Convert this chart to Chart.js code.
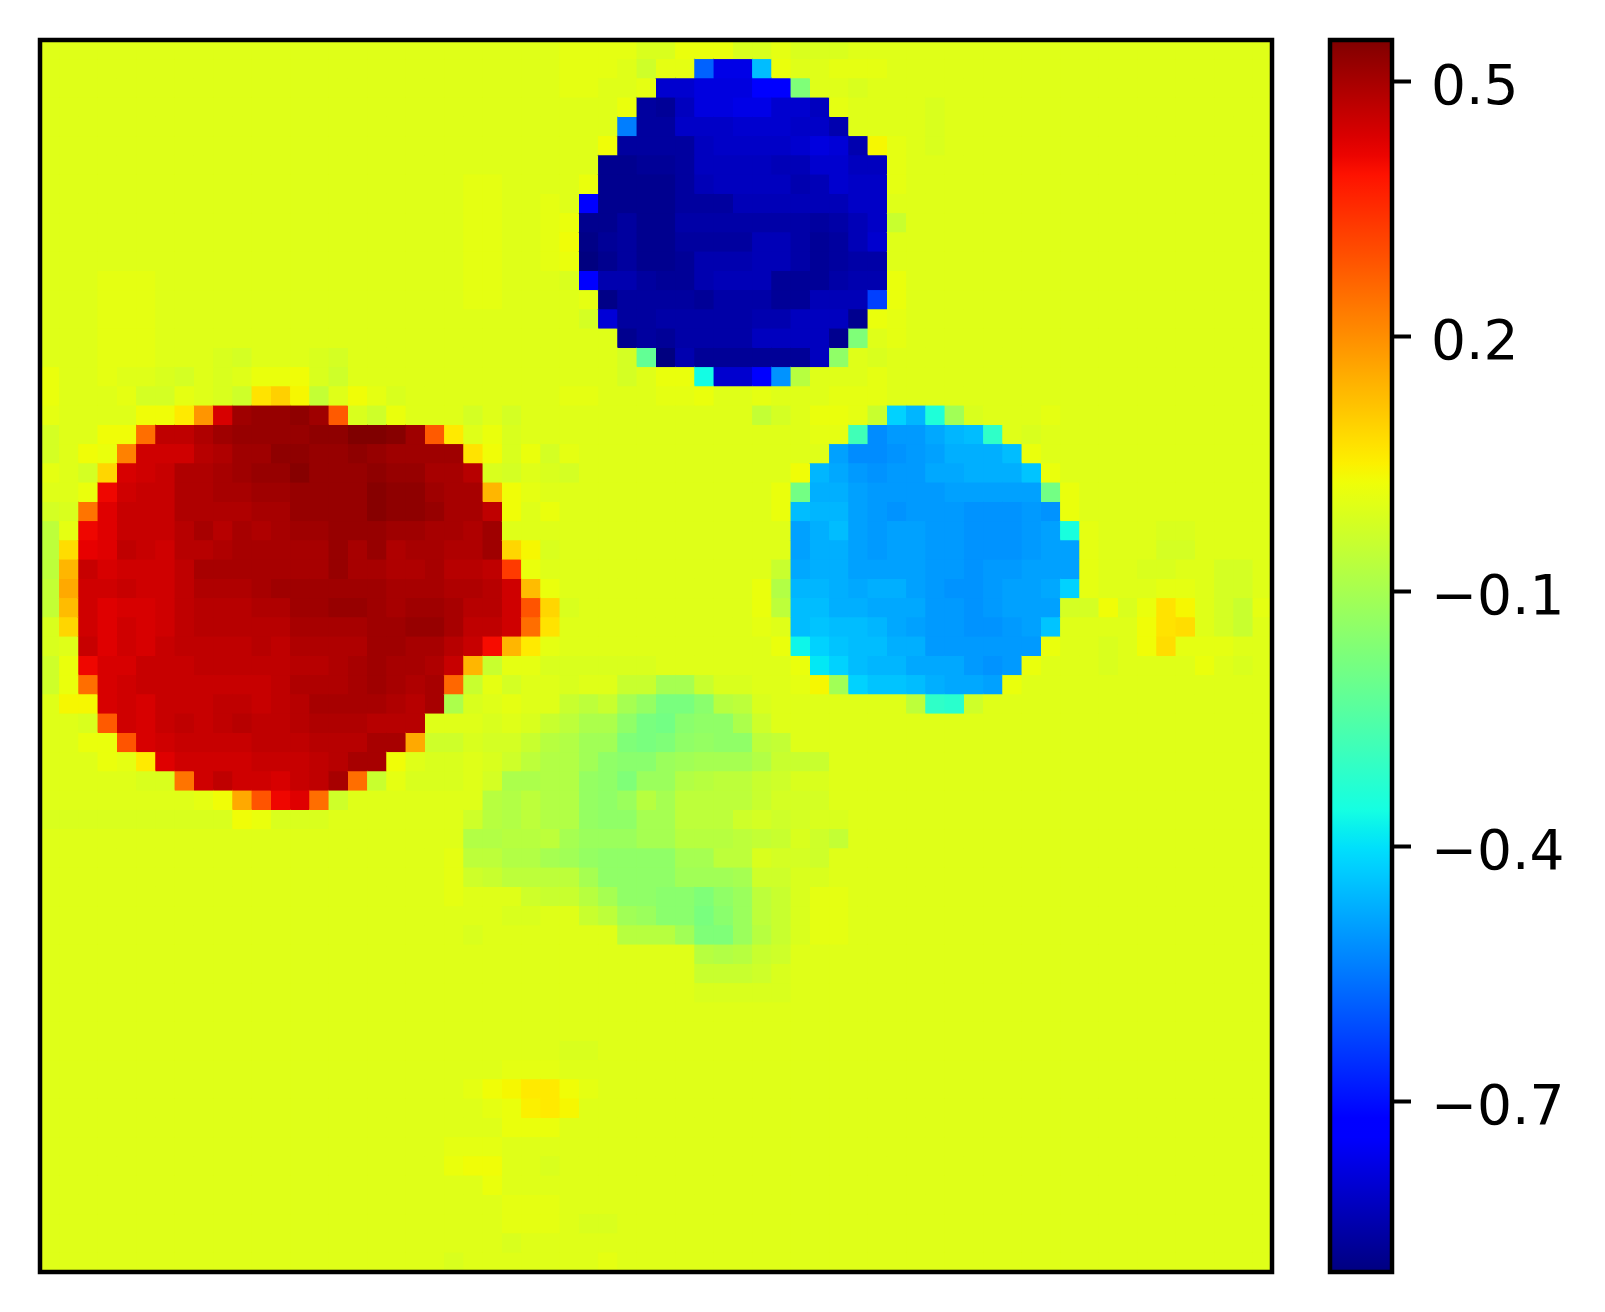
<!DOCTYPE html>
<html>
<head>
<meta charset="utf-8">
<title>Heatmap</title>
<script src="https://cdn.jsdelivr.net/npm/chart.js@4"></script>
<style>
    body { margin: 0; background: #fff; }
    canvas { position: absolute; top: 0; }
    #heat { left: 0; }
    #bar { left: 1300px; }
</style>
</head>
<body>
<canvas id="heat" width="1300" height="1312"></canvas>
<canvas id="bar" width="305" height="1312"></canvas>
<script>
// Colour scale range and colourbar ticks
const valueMin = -0.9;
const valueMax = 0.549;
const tickValues = [0.5, 0.2, -0.1, -0.4, -0.7];
const tickLabels = ["0.5", "0.2", "\u22120.1", "\u22120.4", "\u22120.7"];

// Cell values in hundredths, one row per line (8 values per group)
const heatRows = [
[0,0,0,0,0,0,0,0,  0,0,0,0,0,0,0,0,  0,0,0,0,0,0,0,0,  0,0,0,1,1,1,1,-1,  -1,2,2,2,-1,-1,1,-1,  -1,-1,0,0,0,0,0,0,  0,0,0,0,0,0,0,0,  0,0,0,0,0,0,0,0],
[0,0,0,0,0,0,0,0,  0,0,0,0,0,0,0,0,  0,0,0,0,0,0,0,0,  0,0,0,1,1,1,0,-3,  1,1,-58,-77,-77,-45,2,0,  0,1,1,1,0,0,0,0,  0,0,0,0,0,0,0,0,  0,0,0,0,0,0,0,0],
[0,0,0,0,0,0,0,0,  0,0,0,0,0,0,0,0,  0,0,0,0,0,0,0,0,  0,0,0,1,1,0,0,1,  -80,-80,-78,-78,-78,-74,-74,-17,  0,0,-1,0,0,0,0,0,  0,0,0,0,0,0,0,0,  0,0,0,0,0,0,0,0],
[0,0,0,0,0,0,0,0,  0,0,0,0,0,0,0,0,  0,0,0,0,0,0,0,0,  0,0,0,0,0,0,2,-86,  -87,-82,-78,-78,-77,-77,-80,-80,  -82,1,0,0,0,0,-1,0,  0,0,0,0,0,0,0,0,  0,0,0,0,0,0,0,0],
[0,0,0,0,0,0,0,0,  0,0,0,0,0,0,0,0,  0,0,0,0,0,0,0,0,  0,0,0,0,0,0,-54,-86,  -86,-81,-81,-81,-80,-80,-80,-81,  -81,-84,0,0,0,0,-1,0,  0,0,0,0,0,0,0,0,  0,0,0,0,0,0,0,0],
[0,0,0,0,0,0,0,0,  0,0,0,0,0,0,0,0,  0,0,0,0,0,0,0,0,  0,0,0,0,0,3,-86,-86,  -86,-86,-82,-81,-81,-81,-81,-80,  -78,-79,-84,4,1,0,-1,0,  0,0,0,0,0,0,0,0,  0,0,0,0,0,0,0,0],
[0,0,0,0,0,0,0,0,  0,0,0,0,0,0,0,0,  0,0,0,0,0,0,0,0,  0,0,0,0,0,-88,-88,-87,  -87,-86,-82,-82,-82,-82,-83,-83,  -80,-80,-82,-82,1,0,0,0,  0,0,0,0,0,0,0,0,  0,0,0,0,0,0,0,0],
[0,0,0,0,0,0,0,0,  0,0,0,0,0,0,0,0,  0,0,0,0,0,0,1,1,  0,0,0,0,2,-88,-88,-88,  -88,-86,-83,-82,-82,-82,-82,-84,  -83,-80,-81,-81,1,0,0,0,  0,0,0,0,0,0,0,0,  0,0,0,0,0,0,0,0],
[0,0,0,0,0,0,0,0,  0,0,0,0,0,0,0,0,  0,0,0,0,0,0,1,1,  0,0,1,0,-72,-88,-88,-88,  -88,-86,-86,-86,-83,-83,-83,-83,  -83,-83,-81,-81,0,0,0,0,  0,0,0,0,0,0,0,0,  0,0,0,0,0,0,0,0],
[0,0,0,0,0,0,0,0,  0,0,0,0,0,0,0,0,  0,0,0,0,0,0,1,1,  0,0,1,2,-88,-88,-86,-88,  -88,-85,-85,-85,-85,-85,-85,-85,  -86,-85,-83,-81,-4,0,0,0,  0,0,0,0,0,0,0,0,  0,0,0,0,0,0,0,0],
[0,0,0,0,0,0,0,0,  0,0,0,0,0,0,0,0,  0,0,0,0,0,0,1,1,  0,0,1,3,-89,-87,-86,-88,  -88,-86,-86,-86,-86,-83,-83,-85,  -87,-86,-83,-80,0,0,0,0,  0,0,0,0,0,0,0,0,  0,0,0,0,0,0,0,0],
[0,0,0,0,0,0,0,0,  0,0,0,0,0,0,0,0,  0,0,0,0,0,0,1,1,  0,0,1,2,-90,-88,-86,-88,  -88,-87,-84,-84,-84,-83,-83,-85,  -87,-86,-85,-85,0,0,0,0,  0,0,0,0,0,0,0,0,  0,0,0,0,0,0,0,0],
[0,0,0,1,1,1,0,0,  0,0,0,0,0,0,0,0,  0,0,0,0,0,0,1,1,  0,0,0,-1,-74,-84,-84,-86,  -87,-87,-84,-83,-83,-83,-87,-87,  -87,-85,-84,-84,2,0,0,0,  0,0,0,0,0,0,0,0,  0,0,0,0,0,0,0,0],
[0,0,0,1,1,1,0,0,  0,0,0,0,0,0,0,0,  0,0,0,0,0,0,1,1,  0,0,0,0,1,-89,-86,-86,  -86,-86,-87,-85,-85,-85,-87,-87,  -83,-83,-83,-63,2,0,0,0,  0,0,0,0,0,0,0,0,  0,0,0,0,0,0,0,0],
[0,0,0,1,1,1,0,0,  0,0,0,0,0,0,0,0,  0,0,0,0,0,0,0,0,  0,0,0,0,-2,-79,-86,-86,  -85,-85,-85,-85,-85,-84,-84,-82,  -82,-82,-88,2,1,0,0,0,  0,0,0,0,0,0,0,0,  0,0,0,0,0,0,0,0],
[0,0,0,1,1,1,0,0,  0,0,0,0,0,0,0,0,  0,0,0,0,0,0,0,0,  0,0,0,0,0,0,-88,-86,  -87,-85,-85,-85,-85,-82,-82,-82,  -82,-88,-17,0,1,0,0,0,  0,0,0,0,0,0,0,0,  0,0,0,0,0,0,0,0],
[0,0,0,1,1,1,0,0,  0,-1,-2,0,0,0,-1,-2,  0,0,0,0,0,0,0,0,  0,0,0,0,0,0,-2,-22,  -90,-84,-87,-87,-87,-87,-87,-87,  -82,-14,0,-1,0,0,0,0,  0,0,0,0,0,0,0,0,  0,0,0,0,0,0,0,0],
[2,0,0,1,0,0,-1,-2,  0,-1,0,2,2,3,-1,-3,  0,0,0,0,0,0,0,0,  0,0,0,0,0,0,-2,0,  2,2,-36,-80,-80,-74,-51,-7,  0,0,0,1,0,0,0,0,  0,0,0,0,0,0,0,0,  0,0,0,0,0,0,0,0],
[2,0,0,0,1,-2,-2,1,  0,-1,-3,7,10,4,-5,0,  3,1,-1,0,0,0,0,0,  0,0,0,1,1,0,0,0,  1,1,2,0,0,1,0,0,  0,1,1,1,0,0,0,0,  0,0,0,0,0,0,0,0,  0,0,0,0,0,0,0,0],
[1,0,0,0,0,3,3,6,  19,44,51,52,52,53,51,28,  -1,-3,2,0,0,0,-2,0,  -2,0,0,0,0,0,0,0,  0,0,0,0,0,-5,-2,0,  2,2,1,-4,-42,-46,-34,-11,  -1,0,0,0,1,0,0,0,  0,0,0,0,0,0,0,0],
[-2,0,0,3,3,25,47,47,  49,51,52,52,52,52,53,53,  55,55,54,51,28,6,0,2,  -1,0,0,0,0,0,0,0,  0,0,0,0,0,0,0,0,  1,1,-28,-52,-50,-50,-48,-46,  -45,-31,0,-1,0,0,0,0,  0,0,0,0,0,0,0,0],
[-2,0,3,2,22,45,45,45,  48,49,51,51,53,53,52,52,  53,52,51,51,51,51,7,3,  -1,2,-2,1,0,0,0,0,  0,0,0,0,0,0,0,0,  0,-49,-52,-52,-51,-50,-49,-47,  -47,-47,-45,2,0,0,0,0,  0,0,0,0,0,0,0,0],
[1,0,-2,9,44,45,46,49,  49,50,51,52,52,54,52,52,  52,53,52,52,50,50,48,-1,  -2,0,-1,-2,0,0,0,0,  0,0,0,0,0,0,0,3,  -46,-48,-50,-51,-50,-50,-48,-48,  -47,-47,-47,-44,2,0,0,0,  0,0,0,0,0,0,0,0],
[0,0,2,41,45,46,46,49,  49,50,50,51,51,52,52,52,  52,54,53,53,51,50,50,14,  3,1,0,0,0,0,0,0,  0,0,0,0,0,0,2,-19,  -47,-47,-49,-50,-50,-50,-50,-49,  -49,-49,-49,-49,-19,2,0,0,  0,0,0,0,0,0,0,0],
[-2,-1,24,43,46,46,46,49,  49,49,49,50,50,52,52,52,  52,54,53,53,52,50,50,47,  3,0,2,0,0,0,0,0,  0,0,0,0,0,0,2,-45,  -46,-46,-49,-50,-51,-50,-50,-50,  -51,-51,-51,-50,-51,2,0,0,  0,0,0,0,0,0,0,0],
[-6,1,41,43,46,46,46,48,  50,48,50,49,50,51,51,52,  52,52,51,51,50,50,49,51,  0,0,0,0,0,0,0,0,  0,0,0,0,0,0,0,-49,  -47,-45,-49,-50,-49,-49,-50,-50,  -51,-51,-51,-50,-49,-35,1,0,  0,0,-1,-1,0,0,0,0],
[-6,8,42,43,47,46,45,48,  48,49,50,50,50,50,50,52,  50,52,49,50,50,49,49,51,  9,4,-1,0,0,0,0,0,  0,0,0,0,0,0,0,-49,  -47,-47,-49,-50,-49,-49,-50,-50,  -51,-51,-51,-50,-49,-49,1,0,  0,0,-2,-2,0,0,0,0],
[-6,14,46,44,45,45,45,47,  50,50,50,50,50,50,50,52,  50,50,49,49,50,48,48,47,  33,2,0,0,0,0,0,0,  0,0,0,0,0,0,-4,-48,  -47,-47,-49,-49,-49,-49,-50,-50,  -51,-50,-50,-49,-49,-49,1,0,  0,-1,-1,0,0,-2,-2,0],
[-5,16,45,45,46,45,45,47,  49,49,49,50,51,51,51,51,  51,51,50,50,50,49,49,48,  45,13,2,0,0,0,0,0,  0,0,0,0,0,2,-8,-46,  -46,-47,-48,-47,-47,-49,-50,-51,  -51,-50,-49,-49,-48,-42,1,0,  0,0,1,1,0,-2,-2,0],
[-5,13,45,43,44,44,45,47,  48,48,48,49,49,51,51,52,  52,51,50,51,51,50,48,48,  45,29,9,-1,0,0,0,0,  0,0,0,0,0,2,-6,-45,  -45,-47,-47,-48,-48,-48,-50,-50,  -51,-50,-49,-49,-49,-2,-2,3,  -1,2,7,4,0,-2,-4,1],
[-1,9,45,43,45,44,45,47,  48,48,48,48,48,50,50,50,  50,51,51,52,52,50,47,47,  45,25,7,0,0,0,0,0,  0,0,0,0,0,1,0,-45,  -44,-45,-45,-46,-48,-49,-50,-50,  -51,-51,-50,-49,-44,0,0,0,  0,3,7,8,0,-2,-4,0],
[-1,0,46,43,45,44,46,47,  47,47,47,48,47,49,49,49,  49,51,51,50,50,48,46,40,  14,6,1,0,0,0,0,0,  0,0,0,0,0,0,2,-37,  -42,-44,-45,-45,-47,-47,-50,-50,  -50,-50,-50,-50,2,0,0,-1,  0,3,8,1,1,1,0,0],
[-3,2,41,44,44,46,46,46,  47,47,47,47,47,48,48,49,  50,51,50,50,49,46,14,-4,  1,1,-1,-1,-1,-1,-1,-1,  0,0,0,0,0,0,0,2,  -39,-42,-45,-46,-46,-48,-48,-48,  -50,-51,-50,2,0,0,0,-1,  0,0,0,0,2,0,-1,0],
[-3,2,25,44,45,46,46,46,  46,46,46,46,47,49,49,49,  50,51,50,49,50,26,-4,1,  -2,0,0,-1,0,0,-4,-4,  -10,-10,-4,-1,-1,0,0,1,  4,-11,-42,-44,-44,-45,-47,-48,  -48,-49,2,0,0,0,0,0,  0,0,0,0,0,0,0,0],
[0,4,4,44,45,44,46,46,  46,47,47,46,47,48,50,50,  50,50,49,48,50,-9,-1,0,  1,0,0,-4,-6,-4,-10,-13,  -18,-18,-15,-7,-6,-1,0,0,  0,0,0,0,0,-6,-31,-32,  -3,0,0,0,0,0,0,0,  0,0,0,0,0,0,0,0],
[0,0,-1,28,45,44,46,47,  46,47,48,47,47,48,49,49,  49,48,48,48,0,0,0,-1,  0,-1,-4,-6,-9,-9,-14,-18,  -19,-15,-14,-14,-9,-3,0,0,  0,0,0,0,0,0,0,0,  0,0,0,0,0,0,0,0,  0,0,0,0,0,0,0,0],
[0,0,2,2,29,44,45,46,  46,46,46,47,47,47,48,48,  48,50,50,16,-3,-3,-1,-2,  -2,-4,-7,-8,-11,-11,-17,-18,  -17,-14,-13,-14,-14,-6,-5,0,  0,0,0,0,0,0,0,0,  0,0,0,0,0,0,0,0,  0,0,0,0,0,0,0,0],
[0,0,0,2,1,6,43,45,  45,45,45,46,46,46,47,48,  50,50,3,0,-1,-1,0,-1,  -3,-6,-8,-8,-11,-14,-15,-15,  -12,-11,-10,-10,-10,-8,-4,-4,  -4,0,0,0,0,0,0,0,  0,0,0,0,0,0,0,0,  0,0,0,0,0,0,0,0],
[0,0,0,0,0,-1,-1,24,  45,47,45,45,44,46,47,50,  25,-4,1,-1,-1,-1,0,-2,  -9,-9,-8,-8,-13,-14,-17,-12,  -12,-8,-7,-6,-6,-4,-3,-1,  -1,0,0,0,0,0,0,0,  0,0,0,0,0,0,0,0,  0,0,0,0,0,0,0,0],
[0,0,0,0,0,0,0,0,  1,3,16,29,41,43,25,-3,  0,0,0,0,0,0,0,-7,  -8,-6,-8,-8,-13,-14,-12,-7,  -10,-6,-6,-6,-6,-4,-2,-2,  -2,0,0,0,0,0,0,0,  0,0,0,0,0,0,0,0,  0,0,0,0,0,0,0,0],
[-1,-1,-1,-1,-1,-1,-1,-1,  -1,-1,3,2,-1,-1,-1,0,  0,0,0,0,0,0,-3,-7,  -8,-6,-8,-8,-13,-14,-14,-10,  -10,-6,-6,-6,-3,-2,-3,-2,  -1,-1,0,0,0,0,0,0,  0,0,0,0,0,0,0,0,  0,0,0,0,0,0,0,0],
[0,0,0,0,0,0,0,0,  0,0,0,0,0,0,0,0,  0,0,0,0,0,0,-8,-8,  -7,-7,-6,-10,-12,-12,-12,-10,  -10,-7,-7,-7,-6,-5,-4,-1,  -3,-5,0,0,0,0,0,0,  0,0,0,0,0,0,0,0,  0,0,0,0,0,0,0,0],
[0,0,0,0,0,0,0,0,  0,0,0,0,0,0,0,0,  0,0,0,0,0,1,-6,-6,  -8,-8,-10,-11,-13,-14,-14,-14,  -14,-10,-10,-6,-6,-1,-2,-2,  -3,0,0,0,0,0,0,0,  0,0,0,0,0,0,0,0,  0,0,0,0,0,0,0,0],
[0,0,0,0,0,0,0,0,  0,0,0,0,0,0,0,0,  0,0,0,0,0,1,-3,-4,  -6,-6,-6,-6,-10,-14,-14,-14,  -14,-11,-11,-11,-10,-3,-3,-1,  -1,0,0,0,0,0,0,0,  0,0,0,0,0,0,0,0,  0,0,0,0,0,0,0,0],
[0,0,0,0,0,0,0,0,  0,0,0,0,0,0,0,0,  0,0,0,0,0,1,0,0,  0,-3,-4,-4,-7,-10,-14,-14,  -15,-15,-17,-14,-12,-6,-4,-1,  1,1,0,0,0,0,0,0,  0,0,0,0,0,0,0,0,  0,0,0,0,0,0,0,0],
[0,0,0,0,0,0,0,0,  0,0,0,0,0,0,0,0,  0,0,0,0,0,0,0,0,  -1,-1,0,0,-4,-6,-11,-12,  -15,-15,-18,-15,-12,-6,-4,-1,  1,1,0,0,0,0,0,0,  0,0,0,0,0,0,0,0,  0,0,0,0,0,0,0,0],
[0,0,0,0,0,0,0,0,  0,0,0,0,0,0,0,0,  0,0,0,0,0,0,-1,0,  0,0,0,0,0,0,-7,-7,  -7,-11,-17,-17,-12,-7,-4,-1,  1,1,0,0,0,0,0,0,  0,0,0,0,0,0,0,0,  0,0,0,0,0,0,0,0],
[0,0,0,0,0,0,0,0,  0,0,0,0,0,0,0,0,  0,0,0,0,0,0,0,0,  0,0,0,0,0,0,0,0,  0,0,-7,-8,-7,-4,-3,0,  0,0,0,0,0,0,0,0,  0,0,0,0,0,0,0,0,  0,0,0,0,0,0,0,0],
[0,0,0,0,0,0,0,0,  0,0,0,0,0,0,0,0,  0,0,0,0,0,0,0,0,  0,0,0,0,0,0,0,0,  0,0,-4,-4,-4,-3,-1,0,  0,0,0,0,0,0,0,0,  0,0,0,0,0,0,0,0,  0,0,0,0,0,0,0,0],
[0,0,0,0,0,0,0,0,  0,0,0,0,0,0,0,0,  0,0,0,0,0,0,0,0,  0,0,0,0,0,0,0,0,  0,0,-1,-1,-1,-1,-1,0,  0,0,0,0,0,0,0,0,  0,0,0,0,0,0,0,0,  0,0,0,0,0,0,0,0],
[0,0,0,0,0,0,0,0,  0,0,0,0,0,0,0,0,  0,0,0,0,0,0,0,0,  0,0,0,0,0,0,0,0,  0,0,0,0,0,0,0,0,  0,0,0,0,0,0,0,0,  0,0,0,0,0,0,0,0,  0,0,0,0,0,0,0,0],
[0,0,0,0,0,0,0,0,  0,0,0,0,0,0,0,0,  0,0,0,0,0,0,0,0,  0,0,0,0,0,0,0,0,  0,0,0,0,0,0,0,0,  0,0,0,0,0,0,0,0,  0,0,0,0,0,0,0,0,  0,0,0,0,0,0,0,0],
[0,0,0,0,0,0,0,0,  0,0,0,0,0,0,0,0,  0,0,0,0,0,0,0,0,  0,0,0,-1,-1,0,0,0,  0,0,0,0,0,0,0,0,  0,0,0,0,0,0,0,0,  0,0,0,0,0,0,0,0,  0,0,0,0,0,0,0,0],
[0,0,0,0,0,0,0,0,  0,0,0,0,0,0,0,0,  0,0,0,0,0,0,0,0,  1,1,1,0,0,0,0,0,  0,0,0,0,0,0,0,0,  0,0,0,0,0,0,0,0,  0,0,0,0,0,0,0,0,  0,0,0,0,0,0,0,0],
[0,0,0,0,0,0,0,0,  0,0,0,0,0,0,0,0,  0,0,0,0,0,0,1,3,  4,6,6,3,1,0,0,0,  0,0,0,0,0,0,0,0,  0,0,0,0,0,0,0,0,  0,0,0,0,0,0,0,0,  0,0,0,0,0,0,0,0],
[0,0,0,0,0,0,0,0,  0,0,0,0,0,0,0,0,  0,0,0,0,0,0,0,1,  2,5,6,4,0,0,0,0,  0,0,0,0,0,0,0,0,  0,0,0,0,0,0,0,0,  0,0,0,0,0,0,0,0,  0,0,0,0,0,0,0,0],
[0,0,0,0,0,0,0,0,  0,0,0,0,0,0,0,0,  0,0,0,0,0,0,0,0,  2,2,2,0,0,0,0,0,  0,0,0,0,0,0,0,0,  0,0,0,0,0,0,0,0,  0,0,0,0,0,0,0,0,  0,0,0,0,0,0,0,0],
[0,0,0,0,0,0,0,0,  0,0,0,0,0,0,0,0,  0,0,0,0,0,1,1,1,  0,0,0,0,0,0,0,0,  0,0,0,0,0,0,0,0,  0,0,0,0,0,0,0,0,  0,0,0,0,0,0,0,0,  0,0,0,0,0,0,0,0],
[0,0,0,0,0,0,0,0,  0,0,0,0,0,0,0,0,  0,0,0,0,0,2,3,3,  0,0,-1,0,0,0,0,0,  0,0,0,0,0,0,0,0,  0,0,0,0,0,0,0,0,  0,0,0,0,0,0,0,0,  0,0,0,0,0,0,0,0],
[0,0,0,0,0,0,0,0,  0,0,0,0,0,0,0,0,  0,0,0,0,0,0,0,2,  0,0,0,0,0,0,0,0,  0,0,0,0,0,0,0,0,  0,0,0,0,0,0,0,0,  0,0,0,0,0,0,0,0,  0,0,0,0,0,0,0,0],
[0,0,0,0,0,0,0,0,  0,0,0,0,0,0,0,0,  0,0,0,0,0,0,0,0,  1,1,1,0,0,0,0,0,  0,0,0,0,0,0,0,0,  0,0,0,0,0,0,0,0,  0,0,0,0,0,0,0,0,  0,0,0,0,0,0,0,0],
[0,0,0,0,0,0,0,0,  0,0,0,0,0,0,0,0,  0,0,0,0,0,0,0,0,  1,1,1,0,-1,-1,0,0,  0,0,0,0,0,0,0,0,  0,0,0,0,0,0,0,0,  0,0,0,0,0,0,0,0,  0,0,0,0,0,0,0,0],
[0,0,0,0,0,0,0,0,  0,0,0,0,0,0,0,0,  0,0,0,0,0,0,0,0,  -1,0,0,0,0,0,0,0,  0,0,0,0,0,0,0,0,  0,0,0,0,0,0,0,0,  0,0,0,0,0,0,0,0,  0,0,0,0,0,0,0,0],
[0,0,0,0,0,0,0,0,  0,0,0,0,0,0,0,0,  0,0,0,0,0,-1,0,0,  0,0,0,0,0,1,0,0,  0,0,0,0,0,0,0,0,  0,0,0,0,0,0,0,0,  0,0,0,0,0,0,0,0,  0,0,0,0,0,0,0,0]
];

// jet colormap: breakpoints as in matplotlib
const jetRed = [[0, 0], [0.35, 0], [0.66, 1], [0.89, 1], [1, 0.5]];
const jetGreen = [[0, 0], [0.125, 0], [0.375, 1], [0.64, 1], [0.91, 0], [1, 0]];
const jetBlue = [[0, 0.5], [0.11, 1], [0.34, 1], [0.65, 0], [1, 0]];

function channel(stops, f) {
    for (let i = 1; i < stops.length; i++) {
        if (f <= stops[i][0]) {
            let a = stops[i - 1], b = stops[i];
            return a[1] + (b[1] - a[1]) * (f - a[0]) / (b[0] - a[0]);
        }
    }
    return stops[stops.length - 1][1];
}

function jet(f) {
    f = Math.max(0, Math.min(1, f));
    let r = Math.round(channel(jetRed, f) * 255);
    let g = Math.round(channel(jetGreen, f) * 255);
    let b = Math.round(channel(jetBlue, f) * 255);
    return "rgb(" + r + "," + g + "," + b + ")";
}

function valueColor(v) {
    return jet((v - valueMin) / (valueMax - valueMin));
}

// Black box round the plot area, on top of the marks
const framePlugin = {
    id: "frame",
    afterDraw(chart) {
        let a = chart.chartArea;
        let ctx = chart.ctx;
        ctx.save();
        ctx.strokeStyle = "#000";
        ctx.lineWidth = 4.5;
        ctx.strokeRect(a.left, a.top, a.right - a.left, a.bottom - a.top);
        ctx.restore();
    }
};

// Heatmap: one square point per cell
let cells = [];
let cellColors = [];
heatRows.forEach((row, r) => {
    row.forEach((v, c) => {
        cells.push({ x: c, y: r });
        cellColors.push(valueColor(v / 100));
    });
});

new Chart(document.getElementById("heat"), {
    type: "scatter",
    data: {
        datasets: [
            // exact-size squares on top, slightly larger copy below hides the seams
            {
                data: cells,
                order: 0,
                pointStyle: "rect",
                pointRadius: 13.61,
                pointBorderWidth: 0,
                pointBackgroundColor: cellColors
            },
            {
                data: cells,
                order: 1,
                pointStyle: "rect",
                pointRadius: 14.9,
                pointBorderWidth: 0,
                pointBackgroundColor: cellColors
            }
        ]
    },
    options: {
        responsive: false,
        animation: false,
        events: [],
        layout: { padding: { left: 40, top: 40, right: 28, bottom: 40 } },
        plugins: { legend: { display: false }, tooltip: { enabled: false } },
        scales: {
            x: { type: "linear", min: -0.5, max: 63.5, display: false },
            y: { type: "linear", min: -0.5, max: 63.5, reverse: true, display: false }
        }
    },
    plugins: [framePlugin]
});

// Colourbar: one floating bar filled with the colormap
function barGradient(context) {
    let chart = context.chart;
    if (!chart.chartArea) return "#000";
    let yScale = chart.scales.y;
    let top = yScale.getPixelForValue(valueMax);
    let bottom = yScale.getPixelForValue(valueMin);
    let gradient = chart.ctx.createLinearGradient(0, bottom, 0, top);
    for (let i = 0; i <= 64; i++) {
        gradient.addColorStop(i / 64, jet(i / 64));
    }
    return gradient;
}

new Chart(document.getElementById("bar"), {
    type: "bar",
    data: {
        labels: [""],
        datasets: [{
            data: [[valueMin, valueMax]],
            backgroundColor: barGradient,
            barPercentage: 1,
            categoryPercentage: 1,
            borderWidth: 0,
            borderSkipped: false
        }]
    },
    options: {
        responsive: false,
        animation: false,
        events: [],
        layout: { autoPadding: false, padding: { left: 30, top: 40, right: 0, bottom: 40 } },
        plugins: { legend: { display: false }, tooltip: { enabled: false } },
        scales: {
            x: { display: false },
            y: {
                position: "right",
                min: valueMin,
                max: valueMax,
                afterBuildTicks: scale => {
                    scale.ticks = tickValues.map(v => ({ value: v }));
                },
                afterFit: scale => {
                    // keep the bar at full height, labels must not pull it in
                    scale.width = 213;
                    scale.paddingTop = 0;
                    scale.paddingBottom = 0;
                },
                border: { display: false },
                grid: {
                    drawOnChartArea: false,
                    tickLength: 19,
                    tickWidth: 4,
                    tickColor: "#000"
                },
                ticks: {
                    autoSkip: false,
                    maxRotation: 0,
                    padding: 20,
                    labelOffset: 8,
                    color: "#000",
                    font: { family: "DejaVu Sans", size: 55 },
                    callback: (value, index) => tickLabels[index]
                }
            }
        }
    },
    plugins: [framePlugin]
});
</script>
</body>
</html>
